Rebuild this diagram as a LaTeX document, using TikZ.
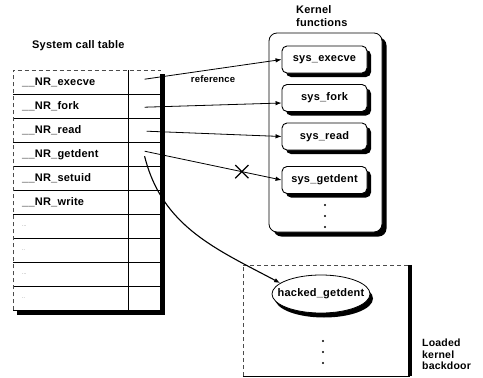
\documentclass[tikz,border=0pt]{standalone}
\usepackage{fontspec}
\setmainfont{Liberation Sans}[LetterSpace=2]
\usepackage{tikz}
\usetikzlibrary{arrows.meta, positioning, calc, shapes.misc, shapes.geometric}

\begin{document}
\begin{tikzpicture}[
    x=1pt, y=-1pt,
    every node/.style={font=\bfseries\fontsize{11}{13}\selectfont},
    shd/.style={fill=black, draw=none},
    namecell/.style={minimum height=24pt, text width=97pt, inner xsep=9pt, inner ysep=0pt, align=left},
    ptrcell/.style={minimum width=32pt, minimum height=24pt, inner sep=0pt},
    rowline/.style={line width=0.9pt},
    faint/.style={line width=0.5pt, black!70, dash pattern=on 4pt off 3pt},
    kbox/.style={draw, line width=0.8pt, rounded corners=8pt, fill=white, minimum width=113pt, minimum height=199pt},
    funcbox/.style={draw, line width=0.9pt, rounded corners=5pt, fill=white, minimum width=85pt, minimum height=27pt, inner sep=0pt},
    ovalbox/.style={draw, ellipse, line width=0.8pt, fill=white, minimum width=98pt, minimum height=38pt, inner sep=0pt},
    ptr/.style={-{Latex[length=6pt, width=4.5pt]}, line width=0.8pt},
    title/.style={inner sep=0pt, align=left},
    reflab/.style={font=\bfseries\fontsize{9.5}{11}\selectfont, inner sep=1pt},
    etc/.style={font=\tiny, text=black!55},
]
\useasboundingbox (0,0) rectangle (483,378);

% ===== SYSTEM CALL TABLE =====
\node[title, anchor=west] (tbl-title) at (32,46) {System call table};

\coordinate (tbl-nw) at (13,70);
\coordinate (tbl-se) at (160,310);
\fill[black] (17,74) rectangle (165,315);
\fill[white] (tbl-nw) rectangle (tbl-se);

\foreach \lab [count=\i] in {\_\_NR\_execve, \_\_NR\_fork, \_\_NR\_read,
                             \_\_NR\_getdent, \_\_NR\_setuid, \_\_NR\_write} {
    \node[namecell, anchor=north west] (r\i) at ($(tbl-nw)+(0,{24*(\i-1)})$) {\lab};
}
% unused slots, 3 or 2 dots
\foreach \n [count=\j from 7] in {3,2,3,2} {
    \node[namecell, anchor=north west, etc] (r\j) at ($(tbl-nw)+(0,{24*(\j-1)})$)
        {\ifnum\n=3 ...\else ..\fi};
}
\foreach \i in {1,...,10} {
    \node[ptrcell, anchor=north west] (p\i) at (r\i.north east) {};
    \draw[rowline] (r\i.south west) -- (p\i.south east);
}
\draw[rowline] (r1.north east) -- (r10.south east);
\draw[faint] (r10.south west) -- (r1.north west) -- (p1.north east);

% ===== KERNEL FUNCTIONS =====
\node[title, anchor=north west] (k-title) at (296,5) {Kernel\\functions};
\node[kbox, shd] (kfun-shd) at (330,137) {};
\node[kbox] (kfun) at (325.5,132.5) {};

% function boxes, each over its own shadow
\foreach \nm/\lab/\y in {sys-execve/sys\_execve/59.5, sys-fork/sys\_fork/98,
                         sys-read/sys\_read/136.5, sys-getdent/sys\_getdent/180} {
    \node[funcbox, shd] (\nm-shd) at (328.5,\y+4) {};
    \node[funcbox] (\nm) at (324.5,\y) {\lab};
}
\foreach \y in {205,216,227}
    \fill (325,\y) circle (1.2pt);

% ===== LOADED BACKDOOR =====
\node[inner sep=0pt, minimum width=167pt, minimum height=111pt] (bdoor) at (326.5,320.5) {};
\draw[faint] (bdoor.south west) -- (bdoor.north west) -- (bdoor.north east);
\draw[line width=3.5pt] (bdoor.north east) -- (bdoor.south east);
\draw[rowline] (bdoor.south west) -- (bdoor.south east);

\node[ovalbox, shd] (hacked-shd) at (324,298.5) {};
\node[ovalbox] (hacked) at (321,294) {\makebox[0pt]{hacked\_getdent}};
\foreach \y in {341,352,363}
    \fill (323,\y) circle (1.2pt);

\node[title, anchor=north west, font=\bfseries\fontsize{10.5}{11.5}\selectfont] (bd-title) at (422,339)
    {Loaded\\kernel\\backdoor};

% ===== POINTERS =====
\draw[ptr] ([yshift=3pt]p1.center) -- node[reflab, below=5pt, pos=0.5] (ref-lab) {reference}
    (sys-execve.west);
\draw[ptr] ([yshift=-1pt]p2.center) -- ([yshift=-5pt]sys-fork.west);
\draw[ptr] ([xshift=2pt, yshift=-1pt]p3.center) -- (sys-read.west);
\draw[ptr] ([yshift=3pt]p4.center) -- node[pos=0.71, draw, cross out, line width=1.2pt,
    minimum size=12pt, inner sep=0pt] (cut) {} (sys-getdent.west);

% redirected entry
\draw[ptr, line width=1.1pt] ([yshift=-2pt]p4.center) to[out=-76, in=152] (hacked.165);

\end{tikzpicture}
\end{document}
